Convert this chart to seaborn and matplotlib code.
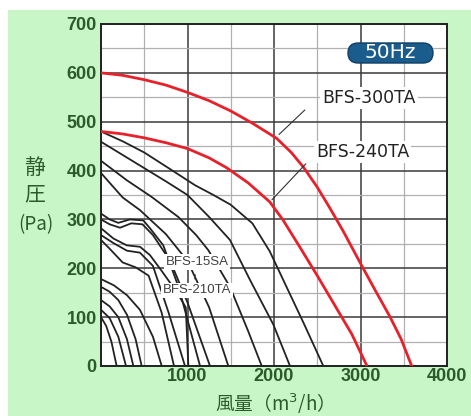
import matplotlib
matplotlib.use("Agg")
import matplotlib.pyplot as plt
import seaborn as sns
import pandas as pd
from matplotlib.patches import Rectangle, FancyBboxPatch
from matplotlib.ticker import MultipleLocator

sns.set_theme(style="white")
plt.rcParams['font.family'] = ['Noto Sans CJK JP', 'DejaVu Sans']

# ---- data (flow m3/h, static pressure Pa) ----
red_300ta_q = [0, 250, 500, 750, 1000, 1250, 1500, 1750, 2030, 2200, 2340, 2500,
               2650, 2800, 3000, 3170, 3340, 3470, 3592]
red_300ta_p = [600, 595, 586, 575, 560, 543, 522, 497, 466, 437, 407, 366,
               322, 276, 210, 155, 101, 55, 0]
red_240ta_q = [0, 250, 500, 750, 1000, 1250, 1450, 1700, 1950, 2100, 2300, 2500,
               2700, 2900, 3075]
red_240ta_p = [480, 475, 467, 457, 445, 426, 406, 375, 336, 300, 243, 185,
               125, 65, 0]

black_curves = {
    "K1": ([0, 250, 500, 817, 1087, 1300, 1500, 1750, 1950, 2150, 2350, 2570],
           [480, 460, 437, 401, 370, 350, 330, 292, 235, 160, 85, 0]),
    "K2": ([0, 250, 500, 750, 1000, 1250, 1491, 1723, 1992, 2185],
           [459, 432, 405, 378, 350, 305, 258, 176, 85, 0]),
    "K3": ([0, 300, 586, 894, 1100, 1241, 1491, 1700, 1858],
           [420, 380, 346, 305, 268, 237, 162, 72, 0]),
    "M1": ([0, 250, 451, 750, 1000, 1250, 1472],
           [395, 345, 319, 270, 215, 120, 0]),
    "C10": ([0, 100, 220, 350, 480, 600, 800, 1000, 1260],
            [300, 290, 283, 292, 290, 268, 215, 130, 0]),
    "C9": ([0, 100, 200, 335, 489, 566, 720, 900, 1145],
           [312, 300, 293, 300, 298, 282, 247, 160, 0]),
    "C8": ([0, 143, 297, 451, 566, 700, 880, 980, 1010],
           [282, 261, 247, 244, 227, 195, 150, 120, 0]),
    "C7": ([0, 140, 300, 450, 600, 780, 971],
           [268, 252, 236, 232, 205, 110, 0]),
    "C6": ([0, 100, 250, 400, 550, 700, 844],
           [258, 240, 212, 202, 185, 110, 0]),
    "C5": ([0, 150, 300, 450, 600, 702],
           [178, 165, 145, 115, 60, 0]),
    "C4": ([0, 100, 200, 300, 400, 470],
           [162, 152, 135, 105, 55, 0]),
    "C3": ([0, 100, 200, 300, 374],
           [135, 122, 100, 55, 0]),
    "C2": ([0, 100, 200, 289],
           [115, 98, 60, 0]),
    "C1": ([0, 60, 120, 181],
           [100, 82, 50, 0]),
}

x_ticks = [0, 1000, 2000, 3000, 4000]
x_tick_labels = ["", "1000", "2000", "3000", "4000"]
y_ticks = [0, 100, 200, 300, 400, 500, 600, 700]

rows = []
for name, (qs, ps) in black_curves.items():
    for q, p in zip(qs, ps):
        rows.append((name, q, p))
df_black = pd.DataFrame(rows, columns=["model", "flow", "pa"])
rows = [("BFS-300TA", q, p) for q, p in zip(red_300ta_q, red_300ta_p)]
rows += [("BFS-240TA", q, p) for q, p in zip(red_240ta_q, red_240ta_p)]
df_red = pd.DataFrame(rows, columns=["model", "flow", "pa"])

W, H = 471, 416
fig = plt.figure(figsize=(W / 100, H / 100), dpi=100)
fig.patch.set_facecolor("white")
bg = Rectangle((8 / W, 0), 1, 1 - 10 / H, transform=fig.transFigure,
               facecolor="#c9f6c6", edgecolor="none", zorder=-10)
fig.add_artist(bg)

ax = fig.add_axes([101 / W, 1 - 366 / H, 346 / W, 342 / H])
ax.set_zorder(5)
ax.set_facecolor("white")

sns.lineplot(data=df_black, x="flow", y="pa", hue="model", units="model",
             estimator=None, sort=False, palette=["#222222"] * len(black_curves),
             linewidth=1.3, legend=False, ax=ax, zorder=3)
sns.lineplot(data=df_red, x="flow", y="pa", hue="model", units="model",
             estimator=None, sort=False, palette=["#e8202a", "#e8202a"],
             linewidth=2.0, legend=False, ax=ax, zorder=4)

ax.set_xlim(0, 4000)
ax.set_ylim(0, 700)
ax.set_xticks(x_ticks)
ax.set_xticklabels(x_tick_labels)
ax.set_yticks(y_ticks)
ax.xaxis.set_minor_locator(MultipleLocator(500))
ax.yaxis.set_minor_locator(MultipleLocator(50))
ax.grid(which="major", color="#3a3a3a", linewidth=1.1, zorder=1)
ax.grid(which="minor", color="#b0b0b0", linewidth=0.9, zorder=1)
ax.set_axisbelow(True)
ax.tick_params(which="both", length=0)
ax.tick_params(axis="y", pad=3)
ax.tick_params(axis="x", pad=1.2)
for lab in ax.get_xticklabels() + ax.get_yticklabels():
    lab.set_fontsize(13)
    lab.set_fontweight("bold")
    lab.set_fontfamily(["Liberation Sans"])
    lab.set_color("#2c5a2c")
for s in ax.spines.values():
    s.set_color("#222222")
    s.set_linewidth(1.4)
ax.set_xlabel("")
ax.set_ylabel("")

# labels on chart
box = dict(facecolor="white", edgecolor="none", pad=1.5)
ax.text(3098, 548, "BFS-300TA", ha="center", va="center", fontsize=12.5,
        color="#222222", family=["DejaVu Sans"], bbox=box, zorder=6)
ax.text(3023, 438, "BFS-240TA", ha="center", va="center", fontsize=12.5,
        color="#222222", family=["DejaVu Sans"], bbox=box, zorder=6)
ax.annotate("", xy=(2035, 470), xytext=(2380, 528),
            arrowprops=dict(arrowstyle="-", color="#333333", lw=0.8), zorder=5)
ax.annotate("", xy=(1954, 336), xytext=(2390, 418),
            arrowprops=dict(arrowstyle="-", color="#333333", lw=0.8), zorder=5)

ax.text(1110, 213, "BFS-15SA", ha="center", va="center", fontsize=9.5,
        color="#404040", family=["Liberation Sans"],
        bbox=dict(facecolor="white", edgecolor="none", pad=1.2), zorder=6)
ax.text(1110, 184, "~", ha="center", va="center", fontsize=8, rotation=90,
        color="#404040", family=["Liberation Sans"], zorder=6)
ax.text(1110, 155, "BFS-210TA", ha="center", va="center", fontsize=9.5,
        color="#404040", family=["Liberation Sans"],
        bbox=dict(facecolor="white", edgecolor="none", pad=1.2), zorder=6)

# 50Hz badge
badge = FancyBboxPatch((348 / W, 1 - 63 / H), 85 / W, 20 / H,
                       boxstyle="round,pad=0,rounding_size=%f" % (10 / W),
                       mutation_aspect=W / H, transform=fig.transFigure,
                       facecolor="#1a5c8c", edgecolor="#0f3f66", linewidth=1.0, zorder=20)
fig.add_artist(badge)
fig.text(390.5 / W, 1 - 53 / H, "50Hz", ha="center", va="center", fontsize=14.5,
         color="white", family=["DejaVu Sans"], zorder=21)

# axis titles
lab_color = "#2c5a2c"
fig.text(35 / W, 1 - 168 / H, "静", ha="center", va="center", fontsize=15, color=lab_color)
fig.text(35 / W, 1 - 194 / H, "圧", ha="center", va="center", fontsize=15, color=lab_color)
fig.text(36 / W, 1 - 225 / H, "(Pa)", ha="center", va="center", fontsize=13.5, color=lab_color)
fig.text(270 / W, 1 - 410.5 / H, "風量（m$^{3}$/h）", ha="center", va="baseline",
         fontsize=13.5, color=lab_color)

fig.savefig("out.png", dpi=100, facecolor=fig.get_facecolor())
